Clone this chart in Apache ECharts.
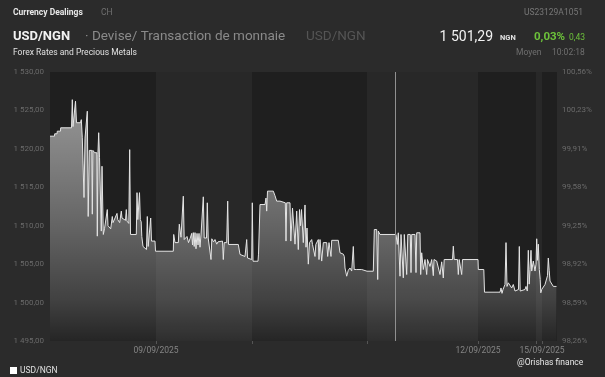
<!DOCTYPE html>
<html>
<head>
<meta charset="utf-8">
<script src="https://cdn.jsdelivr.net/npm/echarts@6.0.0/dist/echarts.min.js"></script>
<style>
  html, body { margin: 0; padding: 0; background: #2b2b2b; }
  #main { width: 605px; height: 377px; }
</style>
</head>
<body>
<div id="main"></div>
<script>
// time index (compressed trading time) and USD/NGN rate, one array per day
var sep08 = [[0,1521.65],[4.5,1521.65],[4.7,1521.96],[7,1521.96],[7.3,1522.3],[10.5,1522.3],[10.7,1522.74],[21.5,1522.74],[22.3,1526.4],[23,1522.9],[24.5,1522.9],[25.5,1526.2],[26.5,1523.4],[30.5,1523.4],[31.3,1523.8],[32.3,1521.44],[33.3,1521.44],[34,1513.67],[35,1521.4],[36.5,1521.2],[37.3,1524.9],[38.2,1511.2],[39.3,1519.8],[41.8,1519.8],[42.3,1511.5],[42.9,1519.8],[44.7,1519.5],[46.8,1519.5],[47.3,1508.64],[47.9,1519.3],[48.7,1522.1],[49.5,1518.9],[50.5,1518.7],[51.3,1509.3],[52,1517.74],[52.7,1517.7],[53.3,1508.86],[54.5,1509.6],[56.5,1509.8],[57.3,1512.1],[58,1510.0],[60,1510.2],[60.7,1509.6],[62.3,1511.2],[63,1510.4],[65,1510.6],[67,1511.6],[67.7,1510.8],[69,1511.0],[69.7,1510.4],[71.3,1511.9],[72,1511.0],[74,1511.2],[75.5,1510.7],[76.3,1512.1],[77,1510.6],[78.8,1510.3],[79.7,1519.9],[80.5,1508.86],[86.3,1508.86],[87,1514.3],[87.8,1510.8],[88.7,1510.8],[89.5,1514.3],[90.3,1510.8],[91.2,1510.5],[91.8,1508.6],[93,1507.3],[96.5,1506.9],[97.3,1511.2],[98.2,1507.3],[100,1507.3],[100.7,1511.0],[101.5,1508.0],[105,1508.0]];
var sep09 = [[105.5,1506.68],[123.3,1506.68],[123.7,1508.86],[125,1507.8],[128.3,1507.8],[129.3,1510.2],[131,1508.5],[132.5,1508.3],[133.3,1513.84],[134.2,1508.2],[136,1508.0],[137,1508.6],[138.5,1507.8],[140,1508.3],[141.7,1509.0],[142.5,1507.5],[143.3,1509.1],[144.2,1507.3],[145,1509.1],[146,1507.0],[147,1509.0],[148,1507.5],[149,1509.0],[150,1507.2],[151,1508.8],[152.3,1508.6],[153.3,1513.76],[154.2,1508.4],[156.5,1508.4],[157.3,1512.98],[158.2,1508.4],[160.2,1508.3],[161,1505.6],[161.8,1508.3],[163.5,1507.9],[165,1508.2],[166.7,1507.6],[168,1507.9],[170,1508.0],[172.5,1508.0],[173.3,1505.6],[174.2,1507.8],[176.7,1507.8],[177.7,1513.2],[178.5,1507.56],[188.3,1507.56],[190,1506.26],[191.5,1506.0],[195,1506.0],[196.7,1508.2],[197.5,1505.8],[201.7,1505.6]];
var sep10 = [[202,1505.6],[202.3,1512.98],[203,1505.38],[208,1505.38],[208.5,1506.3],[209.5,1506.3],[210,1512.76],[215,1512.76],[216,1513.6],[216.7,1511.9],[217.5,1514.5],[223.3,1514.5],[225,1513.9],[226.7,1513.2],[230,1513.2],[230.5,1512.98],[235.3,1512.98],[236,1508.0],[236.7,1512.98],[240,1512.98],[240.8,1508.0],[241.7,1508.0],[242.5,1512.3],[243.5,1512.3],[245,1507.6],[246.7,1511.9],[247.5,1511.9],[248.3,1506.9],[249.5,1512.1],[250.5,1510.0],[251.5,1512.1],[253.3,1507.8],[255,1512.7],[256,1507.2],[257,1509.7],[258.3,1505.0],[259.5,1507.8],[261.7,1508.2],[262.5,1507.56],[264.5,1507.56],[265,1506.0],[265.8,1507.56],[267.5,1507.56],[268.3,1508.2],[269,1505.6],[270,1508.2],[271.7,1505.4],[273.3,1507.8],[276.7,1507.8],[277.7,1506.0],[279,1507.8],[280.5,1507.8],[281,1506.0],[281.7,1508.1],[288.3,1508.1],[290,1506.48],[291.7,1506.3],[293.3,1506.3],[294.3,1506.0],[295,1504.5],[296.7,1503.43],[298.3,1504.2],[300,1504.5],[301.7,1504.1],[302.5,1504.3],[303.3,1507.3],[304.2,1504.3],[305,1504.1],[306.7,1504.3],[311.7,1504.3],[313.3,1504.08],[317,1504.08]];
var sep11 = [[323.3,1504.08],[324.3,1509.5],[326.7,1509.5],[327.7,1503.0],[328.3,1509.3],[330,1508.86],[346,1508.86],[347.3,1507.56],[348.3,1509.08],[349.3,1508.9],[350,1503.43],[351,1508.86],[352.5,1508.86],[353.3,1503.22],[354.3,1508.86],[355.5,1508.86],[356.7,1503.65],[357.8,1508.86],[360.3,1508.86],[361,1503.9],[361.7,1508.86],[365,1508.86],[366,1503.9],[366.7,1509.08],[370,1509.08],[370.7,1503.65],[371.7,1506.48],[373.3,1504.3],[375,1505.6],[376,1505.6],[376.7,1503.65],[377.5,1505.6],[379.3,1505.4],[380,1504.7],[381.7,1505.6],[382.7,1505.6],[383.3,1503.5],[384,1505.6],[386.7,1505.4],[388.3,1505.3],[390,1503.65],[391.7,1505.3],[392.7,1505.38],[393.3,1503.2],[394.2,1505.6],[402.5,1505.6],[403.3,1507.34],[404.2,1505.6],[407.5,1505.6],[408.3,1503.65],[409.2,1505.6],[411,1505.6],[411.7,1503.65],[412.5,1505.6],[428,1505.6]];
var sep12 = [[428.3,1504.3],[433.8,1504.3],[434.5,1501.35],[450,1501.35],[451,1501.9],[452,1501.2],[453,1501.7],[455,1502.35],[456,1507.8],[457,1502.1],[458.3,1502.57],[460,1502.57],[461.7,1501.9],[463.3,1502.35],[465,1501.5],[466.7,1501.7],[468.5,1501.7],[469.3,1507.3],[470.2,1501.5],[471.7,1501.7],[475,1501.7],[476,1502.1],[477.3,1501.5],[478.3,1506.8],[479.2,1502.4],[480,1504.3],[481,1506.8],[481.7,1504.1],[483.3,1505.4],[485,1504.1],[486,1505.0]];
var sep15 = [[486.7,1508.3],[487.5,1505.5],[488.3,1507.6],[489.3,1504.3],[490.2,1503.0],[490.8,1501.27],[491.7,1501.7],[493.3,1501.7],[495,1502.35],[496.7,1502.57],[497.5,1503.5],[498.3,1505.8],[499.2,1504.2],[500,1502.8],[501.7,1502.57],[503.3,1502.1],[505,1502.35],[506.5,1502.1]];

var dayBounds = [106, 202, 317, 428, 486, 492];   // session starts on the time index
var lightDays = [[106, 202], [317, 428], [486, 492]];
var dateTicks = [106, 428, 492];
var dateLabels = ['09/09/2025', '12/09/2025', '15/09/2025'];
var pctLabels = ['98,26%', '98,59%', '98,92%', '99,25%', '99,58%', '99,91%', '100,23%', '100,56%'];
var cursorT = 345;

var rate = sep08.concat(sep09, sep10, sep11, sep12, sep15);

function fmtNum(v) {
    var p = v.toFixed(2).split('.');
    return p[0].replace(/\B(?=(\d{3})+$)/g, ' ') + ',' + p[1];
}

var chart = echarts.init(document.getElementById('main'));
var font = 'Roboto, sans-serif';

function txt(x, y, s, size, color, opts) {
    opts = opts || {};
    return {
        type: 'text', x: x, y: y, silent: true,
        style: {
            text: s, fontSize: size, fill: color, fontFamily: font,
            fontWeight: opts.bold ? 'bold' : 'normal',
            align: opts.align || 'left', verticalAlign: 'middle'
        }
    };
}

var option = {
    backgroundColor: '#2b2b2b',
    animation: false,
    textStyle: { fontFamily: font },
    grid: {
        left: 50, right: 48, top: 72, bottom: 36,
        show: true, backgroundColor: '#1f1f1f', borderWidth: 0
    },
    graphic: [
        txt(13, 13, 'Currency Dealings', 8.5, '#e8e8e8', { bold: true }),
        txt(101, 13, 'CH', 8.5, '#6f6f6f'),
        txt(583, 13, 'US23129A1051', 8.5, '#777', { align: 'right' }),
        txt(13, 37, 'USD/NGN', 13, '#f2f2f2', { bold: true }),
        txt(85, 37, '\u00b7 Devise/ Transaction de monnaie', 13.5, '#8a8a8a'),
        txt(306, 37, 'USD/NGN', 13.5, '#555'),
        txt(493, 37, '1 501,29', 14, '#f2f2f2', { align: 'right' }),
        txt(500, 38, 'NGN', 7.5, '#e0e0e0', { bold: true }),
        txt(534, 37, '0,03%', 11.5, '#6cc13a', { bold: true }),
        txt(569, 38, '0,43', 8.5, '#6cc13a'),
        txt(13, 53, 'Forex Rates and Precious Metals', 8.5, '#e0e0e0'),
        txt(516, 53, 'Moyen', 8.5, '#6f6f6f'),
        txt(552, 53, '10:02:18', 8.5, '#6f6f6f'),
        txt(517, 363, '@Orishas finance', 8.5, '#e6e6e6')
    ],
    legend: {
        data: ['USD/NGN'],
        left: 5, top: 361,
        icon: 'rect', itemWidth: 7, itemHeight: 7, itemGap: 4,
        textStyle: { color: '#e0e0e0', fontSize: 8.5, padding: [0, 0, 0, -2] }
    },
    xAxis: {
        type: 'value', min: 0, max: 507,
        axisLine: { show: false },
        splitLine: { show: false },
        axisTick: { show: true, customValues: dayBounds, length: 3, lineStyle: { color: '#555' } },
        axisLabel: {
            customValues: dateTicks, color: '#858585', fontSize: 8.5, margin: 5,
            formatter: function (v) { return dateLabels[dateTicks.indexOf(v)] || ''; }
        }
    },
    yAxis: [{
        type: 'value', min: 1495, max: 1530, interval: 5, position: 'left',
        axisLine: { show: false }, axisTick: { show: false }, splitLine: { show: false },
        axisLabel: { color: '#6a6a6a', fontSize: 8, margin: 6, formatter: fmtNum }
    }, {
        type: 'value', min: 1495, max: 1530, interval: 5, position: 'right',
        axisLine: { show: false }, axisTick: { show: false }, splitLine: { show: false },
        axisLabel: {
            color: '#6a6a6a', fontSize: 8, margin: 5,
            formatter: function (v) { return pctLabels[Math.round((v - 1495) / 5)]; }
        }
    }],
    series: [{
        name: 'USD/NGN',
        type: 'line',
        data: rate,
        showSymbol: false,
        itemStyle: { color: '#ffffff' },
        lineStyle: { color: '#e4e4e4', width: 1 },
        areaStyle: {
            origin: 'start',
            color: new echarts.graphic.LinearGradient(0, 0, 0, 1, [
                { offset: 0, color: 'rgba(255,255,255,0.76)' },
                { offset: 0.15, color: 'rgba(255,255,255,0.68)' },
                { offset: 0.5, color: 'rgba(255,255,255,0.46)' },
                { offset: 0.83, color: 'rgba(255,255,255,0.22)' },
                { offset: 1, color: 'rgba(255,255,255,0.04)' }
            ])
        },
        z: 2
    }, {
        type: 'line',
        data: [],
        silent: true,
        z: 10,
        markArea: {
            silent: true,
            z: 10,
            itemStyle: { color: 'rgba(255,255,255,0.045)' },
            data: lightDays.map(function (d) { return [{ xAxis: d[0] }, { xAxis: d[1] }]; })
        },
        markLine: {
            silent: true,
            symbol: 'none',
            label: { show: false },
            lineStyle: { color: '#8c8c8c', width: 1, type: 'solid' },
            data: [{ xAxis: cursorT }]
        }
    }]
};

chart.setOption(option);

window.onresize = function () {
    chart.resize();
};
</script>
</body>
</html>
